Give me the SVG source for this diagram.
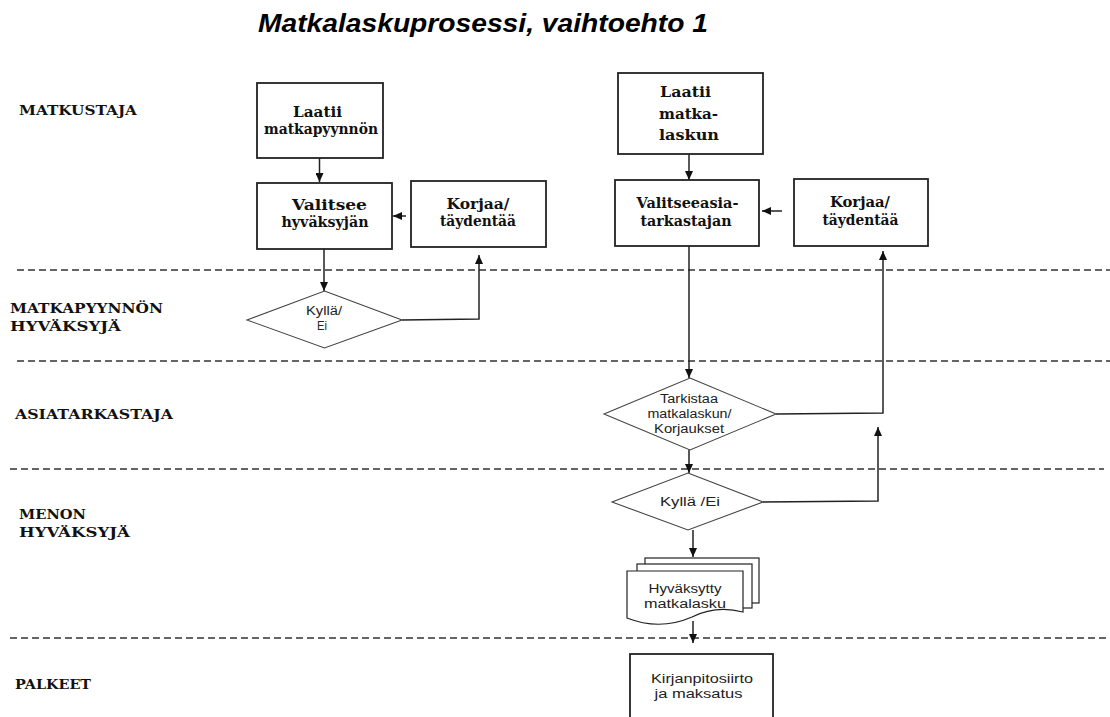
<svg xmlns="http://www.w3.org/2000/svg" width="1110" height="717" viewBox="0 0 1110 717">
  <style>
    .title { font-family: "Liberation Sans", Arial, sans-serif; font-weight: bold; font-style: italic; font-size: 25px; fill: #000; }
    .lane { font-family: "DejaVu Serif", "Liberation Serif", serif; font-weight: bold; font-size: 13.5px; fill: #111; }
    .bx { font-family: "DejaVu Serif", "Liberation Serif", serif; font-weight: bold; font-size: 14px; fill: #111; }
    .sm { font-family: "Liberation Sans", Arial, sans-serif; font-size: 12.5px; fill: #222; }
    .box { fill: #fff; stroke: #222; stroke-width: 1.8; }
    .dia { fill: #fff; stroke: #444; stroke-width: 1.1; }
    .doc { fill: #fff; stroke: #222; stroke-width: 1.2; }
    .sep { stroke: #333; stroke-width: 1.5; stroke-dasharray: 7 4; fill: none; }
    .con { stroke: #222; stroke-width: 1.5; fill: none; marker-end: url(#arr); }
  </style>
  <defs>
    <marker id="arr" markerUnits="userSpaceOnUse" markerWidth="9" markerHeight="8" refX="9" refY="4" orient="auto">
      <path d="M0,0 L9,4 L0,8 z" fill="#111"/>
    </marker>
  </defs>

  <rect width="1110" height="717" fill="#fff"/>

  <text class="title" x="258" y="32" textLength="450" lengthAdjust="spacingAndGlyphs">Matkalaskuprosessi, vaihtoehto 1</text>

  <!-- swimlane separators and lane titles -->
  <g id="lanes">
    <line class="sep" x1="17" y1="270" x2="1110" y2="270"/>
    <line class="sep" x1="17" y1="361" x2="1110" y2="361"/>
    <line class="sep" x1="10" y1="469" x2="1104" y2="469"/>
    <line class="sep" x1="10" y1="638" x2="1110" y2="638"/>
    <text class="lane" x="19" y="115" textLength="118" lengthAdjust="spacingAndGlyphs">MATKUSTAJA</text>
    <text class="lane" x="10" y="313" textLength="153" lengthAdjust="spacingAndGlyphs">MATKAPYYNNÖN</text>
    <text class="lane" x="10" y="331" textLength="111" lengthAdjust="spacingAndGlyphs">HYVÄKSYJÄ</text>
    <text class="lane" x="15" y="419" textLength="158" lengthAdjust="spacingAndGlyphs">ASIATARKASTAJA</text>
    <text class="lane" x="19" y="519" textLength="67" lengthAdjust="spacingAndGlyphs">MENON</text>
    <text class="lane" x="19" y="537" textLength="111" lengthAdjust="spacingAndGlyphs">HYVÄKSYJÄ</text>
    <text class="lane" x="15" y="689" textLength="76" lengthAdjust="spacingAndGlyphs">PALKEET</text>
  </g>

  <!-- connectors -->
  <g id="connectors">
    <line class="con" x1="319.5" y1="158" x2="319.5" y2="182"/>
    <line class="con" x1="406" y1="216" x2="393" y2="216"/>
    <line class="con" x1="324" y1="249" x2="324" y2="291"/>
    <polyline class="con" points="402,320 479,319 479,255"/>
    <line class="con" x1="689" y1="154" x2="689" y2="180"/>
    <line class="con" x1="782" y1="211" x2="762" y2="211"/>
    <line class="con" x1="689" y1="246" x2="689" y2="378"/>
    <polyline class="con" points="776,414 883,413 883,251"/>
    <line class="con" x1="689" y1="450" x2="689" y2="473"/>
    <polyline class="con" points="763,502 878,501 878,427"/>
    <line class="con" x1="693" y1="530" x2="693" y2="557"/>
    <line class="con" x1="693" y1="621" x2="693" y2="643"/>
  </g>

  <g id="laatii-matkapyynnon">
    <rect class="box" x="257" y="83" width="126" height="75"/>
    <text class="bx" x="317.5" y="117" text-anchor="middle" textLength="49" lengthAdjust="spacingAndGlyphs">Laatii</text>
    <text class="bx" x="321" y="134" text-anchor="middle" textLength="114" lengthAdjust="spacingAndGlyphs">matkapyynnön</text>
  </g>

  <g id="valitsee-hyvaksyjan">
    <rect class="box" x="257" y="183" width="135" height="66"/>
    <text class="bx" x="329.5" y="210" text-anchor="middle" textLength="75" lengthAdjust="spacingAndGlyphs">Valitsee</text>
    <text class="bx" x="325" y="227" text-anchor="middle" textLength="87" lengthAdjust="spacingAndGlyphs">hyväksyjän</text>
  </g>

  <g id="korjaa-1">
    <rect class="box" x="411" y="181" width="135" height="66"/>
    <text class="bx" x="478" y="209" text-anchor="middle" textLength="63" lengthAdjust="spacingAndGlyphs">Korjaa/</text>
    <text class="bx" x="478" y="226" text-anchor="middle" textLength="76" lengthAdjust="spacingAndGlyphs">täydentää</text>
  </g>

  <g id="hyvaksynta-1">
    <polygon class="dia" points="324.5,291 402,320 324.5,348 247,320"/>
    <text class="sm" x="324" y="315" text-anchor="middle" textLength="36" lengthAdjust="spacingAndGlyphs">Kyllä/</text>
    <text class="sm" x="322" y="330" text-anchor="middle" textLength="10" lengthAdjust="spacingAndGlyphs">Ei</text>
  </g>

  <g id="laatii-matkalaskun">
    <rect class="box" x="618" y="73" width="145" height="81"/>
    <text class="bx" x="660" y="97" textLength="51" lengthAdjust="spacingAndGlyphs">Laatii</text>
    <text class="bx" x="659" y="119" textLength="59" lengthAdjust="spacingAndGlyphs">matka-</text>
    <text class="bx" x="659" y="140" textLength="60" lengthAdjust="spacingAndGlyphs">laskun</text>
  </g>

  <g id="valitsee-asiatarkastajan">
    <rect class="box" x="615" y="180" width="144" height="66"/>
    <text class="bx" x="687.5" y="208" text-anchor="middle" textLength="102" lengthAdjust="spacingAndGlyphs">Valitseeasia-</text>
    <text class="bx" x="686" y="226" text-anchor="middle" textLength="91" lengthAdjust="spacingAndGlyphs">tarkastajan</text>
  </g>

  <g id="korjaa-2">
    <rect class="box" x="794" y="179" width="134" height="67"/>
    <text class="bx" x="860" y="207" text-anchor="middle" textLength="60" lengthAdjust="spacingAndGlyphs">Korjaa/</text>
    <text class="bx" x="860.5" y="225" text-anchor="middle" textLength="76" lengthAdjust="spacingAndGlyphs">täydentää</text>
  </g>

  <g id="tarkistaa">
    <polygon class="dia" points="690,378 776,414 690,450 604,414"/>
    <text class="sm" x="689" y="403" text-anchor="middle" textLength="58" lengthAdjust="spacingAndGlyphs">Tarkistaa</text>
    <text class="sm" x="689.5" y="418" text-anchor="middle" textLength="84" lengthAdjust="spacingAndGlyphs">matkalaskun/</text>
    <text class="sm" x="689" y="433" text-anchor="middle" textLength="70" lengthAdjust="spacingAndGlyphs">Korjaukset</text>
  </g>

  <g id="hyvaksynta-2">
    <polygon class="dia" points="688,473 763,502 688,530 612,502"/>
    <text class="sm" x="690" y="506" text-anchor="middle" textLength="60" lengthAdjust="spacingAndGlyphs">Kyllä /Ei</text>
  </g>

  <g id="hyvaksytty-matkalasku">
    <rect class="doc" x="645" y="558" width="114" height="45"/>
    <rect class="doc" x="637" y="564" width="115" height="44"/>
    <path class="doc" d="M627,571 H743 V612 Q716,605 692,617 Q660,631 627,618 Z"/>
    <text class="sm" x="685" y="593" text-anchor="middle" textLength="73" lengthAdjust="spacingAndGlyphs">Hyväksytty</text>
    <text class="sm" x="685" y="608" text-anchor="middle" textLength="82" lengthAdjust="spacingAndGlyphs">matkalasku</text>
  </g>

  <g id="kirjanpitosiirto">
    <rect class="box" x="630" y="654" width="143" height="80"/>
    <text class="sm" x="702" y="683" text-anchor="middle" textLength="102" lengthAdjust="spacingAndGlyphs">Kirjanpitosiirto</text>
    <text class="sm" x="698.5" y="698" text-anchor="middle" textLength="88" lengthAdjust="spacingAndGlyphs">ja maksatus</text>
  </g>
</svg>
